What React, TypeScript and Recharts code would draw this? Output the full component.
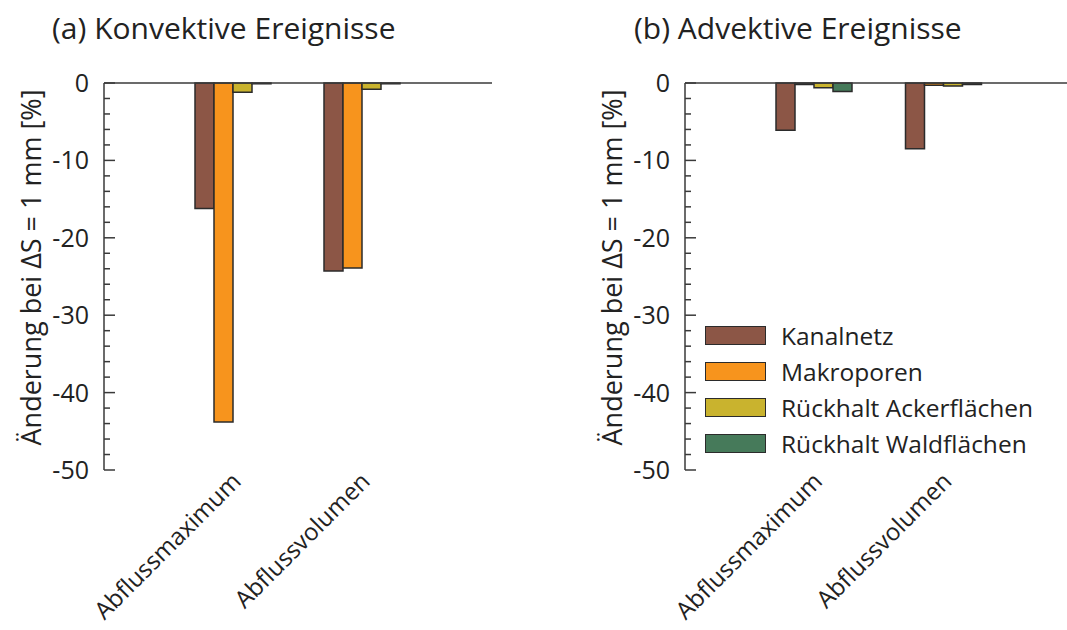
import React from "react";
import { BarChart, Bar, XAxis, YAxis, ReferenceLine } from "recharts";

const categories = ["Abflussmaximum", "Abflussvolumen"];
const seriesNames = ["Kanalnetz", "Makroporen", "Rückhalt Ackerflächen", "Rückhalt Waldflächen"];
const seriesColors = ["#8c5646", "#f7941d", "#c9b32e", "#467a5a"];

// (a) Konvektive Ereignisse
const kanalnetzA = [-16.2, -24.3];
const makroporenA = [-43.8, -23.9];
const ackerA = [-1.2, -0.8];
const waldA = [-0.1, -0.1];

// (b) Advektive Ereignisse
const kanalnetzB = [-6.1, -8.5];
const makroporenB = [-0.2, -0.3];
const ackerB = [-0.6, -0.4];
const waldB = [-1.1, -0.2];

const yTicks = [0, -2, -4, -6, -8, -10, -12, -14, -16, -18, -20, -22, -24, -26, -28, -30, -32, -34, -36, -38, -40, -42, -44, -46, -48, -50];

const FONT = "'Open Sans', 'Noto Sans', sans-serif";
const TEXT = "#222";
const AXIS = "#3a3a3a";
const yTitle = "Änderung bei ΔS = 1 mm [%]";

const makeRows = (k: number[], m: number[], a: number[], w: number[]) =>
  categories.map((c, i) => ({ name: c, s0: k[i], s1: m[i], s2: a[i], s3: w[i] }));

const dataA = makeRows(kanalnetzA, makroporenA, ackerA, waldA);
const dataB = makeRows(kanalnetzB, makroporenB, ackerB, waldB);

const YTick = (props: any) => {
  const { x, y, payload } = props;
  const v = payload.value;
  const major = v % 10 === 0;
  return (
    <g>
      <line x1={x} x2={x + (major ? 11 : 6)} y1={y} y2={y} stroke={AXIS} strokeWidth={1.5} />
      {major && (
        <text x={x - 15} y={y} dy="0.36em" textAnchor="end" fontSize={25} fill={TEXT} fontFamily={FONT}>
          {v}
        </text>
      )}
    </g>
  );
};

const XTick = (props: any) => {
  const { x, y, payload } = props;
  return (
    <g transform={`translate(${x - 3},${y + 1}) rotate(-45)`}>
      <text x={0} y={0} dy="0.7em" textAnchor="end" fontSize={24} fill={TEXT} fontFamily={FONT}>
        {payload.value}
      </text>
    </g>
  );
};

const YLabel = (props: any) => {
  const { viewBox } = props;
  const cy = viewBox.y + viewBox.height / 2 - 9;
  return (
    <text
      transform={`translate(30,${cy}) rotate(-90)`}
      textAnchor="middle"
      dominantBaseline="central"
      fontSize={27}
      fill={TEXT}
      fontFamily={FONT}
    >
      {yTitle}
    </text>
  );
};

const LegendBox = () => (
  <div style={{ fontFamily: FONT, fontSize: 24.5, color: TEXT, whiteSpace: "nowrap" }}>
    {seriesNames.map((n, i) => (
      <div key={n} style={{ display: "flex", alignItems: "center", height: 36 }}>
        <div
          style={{
            width: 59,
            height: 17,
            background: seriesColors[i],
            border: "1.5px solid #2b2b2b",
            marginRight: 15,
          }}
        />
        <span>{n}</span>
      </div>
    ))}
  </div>
);

const Panel = ({ data, width, padRight, marginRight }: any) => (
  <BarChart
    width={width}
    height={630}
    data={data}
    margin={{ top: 83, right: marginRight, bottom: 0, left: 0 }}
    barCategoryGap={26}
    barGap={0}
  >
    <XAxis
      dataKey="name"
      axisLine={false}
      tickLine={false}
      tickSize={0}
      tickMargin={0}
      height={160}
      interval={0}
      padding={{ left: 65, right: padRight }}
      tick={<XTick />}
    />
    <YAxis
      domain={[-50, 0]}
      ticks={yTicks}
      interval={0}
      width={104}
      tickSize={0}
      tickMargin={0}
      tickLine={false}
      axisLine={{ stroke: AXIS, strokeWidth: 1.5 }}
      tick={<YTick />}
      label={<YLabel />}
    />
    <ReferenceLine y={0} stroke={AXIS} strokeWidth={1.5} />
    {seriesNames.map((n, i) => (
      <Bar
        key={n}
        dataKey={`s${i}`}
        name={n}
        fill={seriesColors[i]}
        stroke="#2b2b2b"
        strokeWidth={1.5}
        isAnimationActive={false}
      />
    ))}
  </BarChart>
);

export default function App() {
  const titleStyle: React.CSSProperties = {
    position: "absolute",
    top: 7,
    fontFamily: FONT,
    fontSize: 30,
    color: TEXT,
    whiteSpace: "nowrap",
  };
  return (
    <div style={{ position: "absolute", left: 0, top: 0, width: 1067, height: 630, background: "#fff", overflow: "hidden" }}>
      <div style={{ ...titleStyle, left: 52 }}>(a) Konvektive Ereignisse</div>
      <div style={{ ...titleStyle, left: 634 }}>(b) Advektive Ereignisse</div>
      <div style={{ position: "absolute", left: 0, top: 0 }}>
        <Panel data={dataA} width={520} padRight={65} marginRight={28} />
      </div>
      <div style={{ position: "absolute", left: 581, top: 0 }}>
        <Panel data={dataB} width={486} padRight={58} marginRight={0} />
      </div>
      <div style={{ position: "absolute", left: 705, top: 317 }}>
        <LegendBox />
      </div>
    </div>
  );
}
